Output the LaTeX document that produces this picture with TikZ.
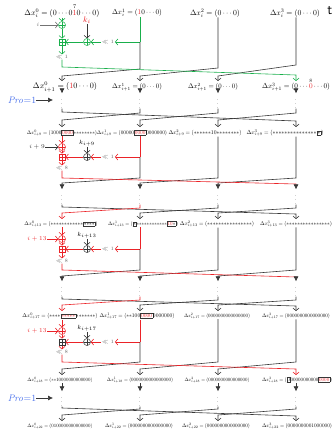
\documentclass[tikz,border=0pt]{standalone}
\usepackage{fix-cm}
\usepackage{amsmath,amssymb}
\usetikzlibrary{arrows.meta}
\definecolor{grn}{RGB}{25,175,75}
\definecolor{rd}{RGB}{235,35,40}
\definecolor{wire}{RGB}{55,55,55}
\definecolor{pro}{RGB}{70,110,235}
\newcommand{\bx}[1]{{\setlength{\fboxsep}{0.8pt}\setlength{\fboxrule}{0.7pt}\fcolorbox{wire}{white}{$#1$}}}
\newcommand{\lb}[2]{\resizebox{#1pt}{!}{$#2$}}
\ExplSyntaxOn
\NewDocumentCommand\stars{m}{\prg_replicate:nn{#1}{{*}}}
\ExplSyntaxOff
\tikzset{
  lab/.style={inner sep=0pt, text=black},
  xr/.style={circle, draw, minimum size=7pt, inner sep=0pt, line width=0.5pt,
    path picture={\draw[line width=0.5pt] (path picture bounding box.north) -- (path picture bounding box.south)
      (path picture bounding box.west) -- (path picture bounding box.east);}},
  ad/.style={rectangle, draw, minimum size=6.5pt, inner sep=0pt, line width=0.5pt,
    path picture={\draw[line width=0.5pt] (path picture bounding box.north) -- (path picture bounding box.south)
      (path picture bounding box.west) -- (path picture bounding box.east);}},
  sh/.style={inner sep=0.5pt, text=wire!75, font=\fontsize{5}{5}\selectfont},
  inp/.style={inner sep=0.5pt, font=\fontsize{6}{6}\selectfont},
  dts/.style={inner sep=0pt, text=black, font=\fontsize{5}{5}\selectfont},
  prolab/.style={inner sep=0pt, text=pro, font=\fontsize{9.5}{10}\selectfont},
  bar/.style={-{Straight Barb[length=2.5pt,width=6pt]}},
  darr/.style={-{Latex[length=5pt,width=5pt,color=wire]}}
}
\begin{document}
\begin{tikzpicture}[x=1pt, y=-1pt, >=latex, line width=0.6pt, color=wire]
  \useasboundingbox (0,0) rectangle (333,431);
  \coordinate (c0) at (62,0);
  \coordinate (c1) at (140,0);
  \coordinate (c2) at (218,0);
  \coordinate (c3) at (296,0);
  \node[anchor=west, inner sep=0pt, text=black, font=\sffamily\fontsize{14}{14}\selectfont] (tt) at (327,11) {t};

  \node[lab] (l00) at (62,13) {\lb{75}{\Delta x_i^0=(0\cdots0\smash{\overset{7}{{\color{rd}1}}}0\cdots0)}};
  \node[lab] (l01) at (137,13) {\lb{50}{\Delta x_i^1=({\color{rd}1}0\cdots0)}};
  \node[lab] (l02) at (215,13) {\lb{50}{\Delta x_i^2=(0\cdots0)}};
  \node[lab] (l03) at (295,13) {\lb{50}{\Delta x_i^3=(0\cdots0)}};

  \node[xr, grn] (x0) at (62,25) {};
  \node[inp, wire!70] (i0) at (38,25) {$i$};
  \node[ad, grn] (a0) at (62,42) {};
  \node[xr, grn] (k0) at (87,42) {};
  \node[inp, text=rd, font=\fontsize{8}{8}\selectfont] (kl0) at (87,20) {$k_i$};
  \node[sh] (s0) at (108,42) {$\ll1$};
  \node[sh] (t0) at (62,57) {$\ll1$};
  \coordinate (b0) at (140,42);
  \draw[bar, grn] (l00) -- (x0);
  \draw[bar, wire!70] (i0) -- (x0);
  \draw[bar, grn] (x0) -- (a0);
  \draw[bar] (kl0) -- (k0);
  \draw[grn] (l01.south -| b0) -- (b0);
  \draw[bar, grn] (b0) -- (s0);
  \draw[bar, grn] (s0) -- (k0);
  \draw[bar, grn] (k0) -- (a0);
  \draw[bar, grn] (a0) -- (t0);
  \draw[bar] (b0) -- (140,69) -- (62,76) -- (62,81);
  \draw[bar] (l02.south -| c2) -- (218,68) -- (140,76) -- (140,81);
  \draw[bar] (l03.south -| c3) -- (296,65) -- (218,76) -- (218,81);
  \draw[bar, grn] (t0) -- (62,67) -- (296,75) -- (296,81);

  \node[lab] (l10) at (65,87) {\lb{64}{\Delta x^0_{i+1}=({\color{rd}1}0\cdots0)}};
  \node[lab] (l11) at (137,87) {\lb{50}{\Delta x^1_{i+1}=(0\cdots0)}};
  \node[lab] (l12) at (213,87) {\lb{50}{\Delta x^2_{i+1}=(0\cdots0)}};
  \node[lab] (l13) at (296,87) {\lb{68}{\Delta x^3_{i+1}=(0\cdots\smash{\overset{8}{{\color{rd}0}}}\cdots0)}};

  \node[dts] (v10) at (62,101) {$\vdots$};
  \node[dts] (v11) at (140,101) {$\vdots$};
  \node[dts] (v12) at (218,101) {$\vdots$};
  \node[dts] (v13) at (296,101) {$\vdots$};
  \draw[darr] (l10.south -| c0) -- (v10);
  \draw[darr] (l11.south -| c1) -- (v11);
  \draw[darr] (l12.south -| c2) -- (v12);
  \draw[darr] (l13.south -| c3) -- (v13);
  \node[prolab] (p1) at (22,100) {$\mathit{Pro}{=}1$};
  \coordinate (p1e) at (53,100);
  \draw[darr] (p1) -- (p1e);

  \draw[bar] (v11) -- (140,113) -- (62,120) -- (62,127);
  \draw[bar] (v12) -- (218,113) -- (140,120) -- (140,127);
  \draw[bar] (v13) -- (296,113) -- (218,120) -- (218,127);
  \draw[bar] (v10) -- (62,112) -- (296,121) -- (296,127);

  \node[lab] (l20) at (62,133) {\lb{70}{\Delta x^0_{i+9}=(1000\bx{\color{rd}0000}\stars{8})}};
  \node[lab] (l21) at (132,133) {\lb{70}{\Delta x^1_{i+9}=(00000\bx{\color{rd}0000}0000000)}};
  \node[lab] (l22) at (205,133) {\lb{73}{\Delta x^2_{i+9}=(\stars{6}10\stars{8})}};
  \node[lab] (l23) at (285,133) {\lb{77}{\Delta x^3_{i+9}=(\stars{15}\bx{*})}};

  \node[xr, rd] (x2) at (62,147) {};
  \node[inp] (i2) at (37,147) {$i+9$};
  \node[ad, rd] (a2) at (62,157) {};
  \node[xr] (k2) at (87,157) {};
  \node[inp, text=black] (kl2) at (87,143) {$k_{i+9}$};
  \node[sh] (s2) at (108,157) {$\ll1$};
  \node[sh] (t2) at (62,168) {$\ll8$};
  \coordinate (b2) at (140,157);
  \draw[bar, rd] (l20.south -| c0) -- (x2);
  \draw[bar] (i2) -- (x2);
  \draw[bar, rd] (x2) -- (a2);
  \draw[bar] (kl2) -- (k2);
  \draw[rd] (l21.south -| b2) -- (b2);
  \draw[bar, rd] (b2) -- (s2);
  \draw[bar, rd] (s2) -- (k2);
  \draw[bar, rd] (k2) -- (a2);
  \draw[bar, rd] (a2) -- (t2);

  \node[dts] (v30) at (62,197) {$\vdots$};
  \node[dts] (v31) at (140,197) {$\vdots$};
  \node[dts] (v32) at (218,197) {$\vdots$};
  \node[dts] (v33) at (296,197) {$\vdots$};
  \draw[darr] (b2) -- (140,178) -- (62,183) -- (v30);
  \draw[darr] (l22.south -| c2) -- (218,178) -- (140,183) -- (v31);
  \draw[darr] (l23.south -| c3) -- (296,178) -- (218,183) -- (v32);
  \draw[darr, rd] (t2) -- (62,178) -- (296,184) -- (v33);

  \draw[bar] (v32) -- (218,208) -- (140,213) -- (140,219);
  \draw[bar] (v33) -- (296,208) -- (218,213) -- (218,219);
  \draw[bar] (v30) -- (62,207) -- (296,214) -- (296,219);
  \draw[bar, rd] (v31) -- (140,208) -- (62,213) -- (62,219);

  \node[lab] (l30) at (61,224) {\lb{73}{\Delta x^0_{i+13}=(\stars{12}\bx{\stars{4}})}};
  \node[lab] (l31) at (143,224) {\lb{70}{\Delta x^1_{i+13}=(\bx{*}\stars{12}\bx{{\color{rd}10}*})}};
  \node[lab] (l32) at (217,224) {\lb{74}{\Delta x^2_{i+13}=(\stars{16})}};
  \node[lab] (l33) at (296,224) {\lb{72}{\Delta x^3_{i+13}=(\stars{16})}};

  \node[xr, rd] (x3) at (62,239) {};
  \node[inp, rd] (i3) at (37,239) {$i+13$};
  \node[ad, rd] (a3) at (62,249) {};
  \node[xr] (k3) at (87,249) {};
  \node[inp, text=black] (kl3) at (87,235) {$k_{i+13}$};
  \node[sh] (s3) at (108,249) {$\ll1$};
  \node[sh] (t3) at (62,261) {$\ll8$};
  \coordinate (b3) at (140,249);
  \draw[bar, rd] (l30.south -| c0) -- (x3);
  \draw[bar, rd] (i3) -- (x3);
  \draw[bar, rd] (x3) -- (a3);
  \draw[bar] (kl3) -- (k3);
  \draw[rd] (l31.south -| b3) -- (b3);
  \draw[bar, rd] (b3) -- (s3);
  \draw[bar, rd] (s3) -- (k3);
  \draw[bar, rd] (k3) -- (a3);
  \draw[bar, rd] (a3) -- (t3);

  \node[dts] (v40) at (62,289) {$\vdots$};
  \node[dts] (v41) at (140,289) {$\vdots$};
  \node[dts] (v42) at (218,289) {$\vdots$};
  \node[dts] (v43) at (296,289) {$\vdots$};
  \draw[darr] (b3) -- (140,270) -- (62,276) -- (v40);
  \draw[darr] (l32.south -| c2) -- (218,270) -- (140,276) -- (v41);
  \draw[darr] (l33.south -| c3) -- (296,270) -- (218,276) -- (v42);
  \draw[darr, rd] (t3) -- (62,270) -- (296,277) -- (v43);

  \draw[bar] (v42) -- (218,300) -- (140,305) -- (140,311);
  \draw[bar] (v43) -- (296,300) -- (218,305) -- (218,311);
  \draw[bar] (v40) -- (62,299) -- (296,306) -- (296,311);
  \draw[bar, rd] (v41) -- (140,300) -- (62,305) -- (62,311);

  \node[lab] (l40) at (60,316) {\lb{75}{\Delta x^0_{i+17}=(\stars{4}\bx{\color{rd}\stars{5}}\stars{7})}};
  \node[lab] (l41) at (137,316) {\lb{75}{\Delta x^1_{i+17}=(\stars{2}100\bx{\color{rd}0000}0000000)}};
  \node[lab] (l42) at (217,316) {\lb{66}{\Delta x^2_{i+17}=(0000000000000000)}};
  \node[lab] (l43) at (296,316) {\lb{68}{\Delta x^3_{i+17}=(0000000000000000)}};

  \node[xr, rd] (x4) at (62,331) {};
  \node[inp, rd] (i4) at (37,331) {$i+13$};
  \node[ad] (a4) at (62,342) {};
  \node[xr] (k4) at (87,342) {};
  \node[inp, text=black] (kl4) at (87,328) {$k_{i+17}$};
  \node[sh] (s4) at (108,342) {$\ll1$};
  \node[sh] (t4) at (62,352) {$\ll8$};
  \coordinate (b4) at (140,342);
  \draw[bar, rd] (l40.south -| c0) -- (x4);
  \draw[bar, rd] (i4) -- (x4);
  \draw[bar, rd] (x4) -- (a4);
  \draw[bar] (kl4) -- (k4);
  \draw[rd] (l41.south -| b4) -- (b4);
  \draw[bar, rd] (b4) -- (s4);
  \draw[bar, rd] (s4) -- (k4);
  \draw[bar, rd] (k4) -- (a4);
  \draw[bar, rd] (a4) -- (t4);
  \draw[bar] (b4) -- (140,362) -- (62,369) -- (62,375);
  \draw[bar] (l42.south -| c2) -- (218,362) -- (140,369) -- (140,375);
  \draw[bar] (l43.south -| c3) -- (296,362) -- (218,369) -- (218,375);
  \draw[bar, rd] (t4) -- (62,362) -- (296,369) -- (296,375);

  \node[lab] (l50) at (60,380) {\lb{65}{\Delta x^0_{i+18}=(\stars{2}10000000000000)}};
  \node[lab] (l51) at (140,380) {\lb{66}{\Delta x^1_{i+18}=(0000000000000000)}};
  \node[lab] (l52) at (217,380) {\lb{65}{\Delta x^2_{i+18}=(0000000000000000)}};
  \node[lab] (l53) at (297,380) {\lb{70}{\Delta x^3_{i+18}=(\bx{0}00000000000\bx{\color{rd}0000})}};

  \node[dts] (v50) at (62,399) {$\vdots$};
  \node[dts] (v51) at (140,399) {$\vdots$};
  \node[dts] (v52) at (218,399) {$\vdots$};
  \node[dts] (v53) at (296,399) {$\vdots$};
  \draw[darr] (l50.south -| c0) -- (v50);
  \draw[darr] (l51.south -| c1) -- (v51);
  \draw[darr] (l52.south -| c2) -- (v52);
  \draw[darr] (l53.south -| c3) -- (v53);
  \node[prolab] (p2) at (22,398) {$\mathit{Pro}{=}1$};
  \coordinate (p2e) at (53,398);
  \draw[darr] (p2) -- (p2e);

  \draw[bar] (v51) -- (140,409) -- (62,415) -- (62,421);
  \draw[bar] (v52) -- (218,409) -- (140,415) -- (140,421);
  \draw[bar] (v53) -- (296,409) -- (218,415) -- (218,421);
  \draw[bar] (v50) -- (62,408) -- (296,416) -- (296,421);

  \node[lab] (l60) at (60,426) {\lb{65}{\Delta x^0_{i+22}=(0100000000000000)}};
  \node[lab] (l61) at (139,426) {\lb{68}{\Delta x^1_{i+22}=(0000000000000000)}};
  \node[lab] (l62) at (216,426) {\lb{68}{\Delta x^2_{i+22}=(0000000000000000)}};
  \node[lab] (l63) at (297,426) {\lb{70}{\Delta x^3_{i+22}=(0000000001000000)}};
\end{tikzpicture}
\end{document}
